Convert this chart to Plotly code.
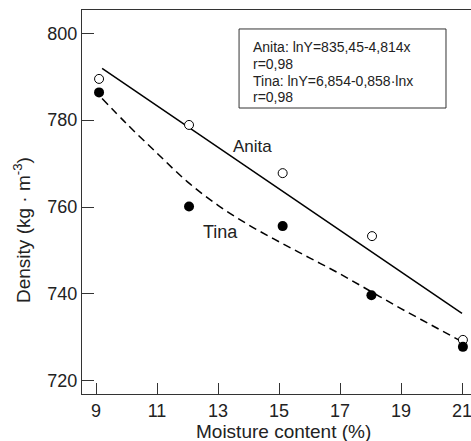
import plotly.graph_objects as go

# Measured data
anita_x = [9.1, 12.05, 15.12, 18.05, 21.03]
anita_y = [789.5, 778.9, 767.8, 753.3, 729.4]
tina_x = [9.1, 12.05, 15.12, 18.03, 21.03]
tina_y = [786.4, 760.1, 755.6, 739.7, 727.8]

# Fitted curves
anita_fit_x = [9.2, 21.0]
anita_fit_y = [791.9, 735.5]
tina_fit_x = [9.2, 10, 11, 12, 13, 14, 15, 16, 17, 18, 19, 20, 21]
tina_fit_y = [785.0, 779.2, 772.4, 765.8, 760.4, 755.9, 752.0, 748.3, 744.6, 740.6, 736.6, 732.8, 729.0]

x_ticks = [9, 11, 13, 15, 17, 19, 21]
y_ticks = [720, 740, 760, 780, 800]

box_lines = ["Anita: lnY=835,45-4,814x", "r=0,98", "Tina: lnY=6,854-0,858·lnx", "r=0,98"]
box_line_y = [796.79, 792.95, 789.11, 785.29]

FONT = "Liberation Sans, Arial, sans-serif"
TXT = "#222222"

fig = go.Figure()
fig.add_trace(go.Scatter(x=anita_fit_x, y=anita_fit_y, mode="lines",
                         line=dict(color="black", width=1.5), showlegend=False))
fig.add_trace(go.Scatter(x=tina_fit_x, y=tina_fit_y, mode="lines", line_shape="spline",
                         line=dict(color="black", width=1.5, dash="8px,5px"), showlegend=False))
fig.add_trace(go.Scatter(x=anita_x, y=anita_y, mode="markers",
                         marker=dict(symbol="circle", size=9, color="white",
                                     line=dict(color="black", width=1)), showlegend=False))
fig.add_trace(go.Scatter(x=tina_x, y=tina_y, mode="markers",
                         marker=dict(symbol="circle", size=10, color="black",
                                     line=dict(color="black", width=0)), showlegend=False))

# Equation box
fig.add_shape(type="rect", xref="x", yref="y", x0=13.69, x1=20.475, y0=782.8, y1=801.0,
              line=dict(color="#333333", width=1), fillcolor="white", layer="below")
for txt, yy in zip(box_lines, box_line_y):
    fig.add_annotation(xref="x", yref="y", x=14.105, y=yy, xanchor="left", yanchor="middle",
                       align="left", showarrow=False, text=txt, borderpad=0,
                       font=dict(family=FONT, size=14, color=TXT))

fig.add_annotation(xref="x", yref="y", x=14.13, y=773.9, showarrow=False, text="Anita",
                   font=dict(family=FONT, size=17, color=TXT))
fig.add_annotation(xref="x", yref="y", x=13.09, y=754.2, showarrow=False, text="Tina",
                   font=dict(family=FONT, size=18, color=TXT))

# Axis titles
fig.add_annotation(xref="paper", yref="paper", x=(283.5 - 82) / 389, y=(441 - 47 - 431) / 384,
                   showarrow=False, text="Moisture content (%)", yanchor="middle",
                   font=dict(family=FONT, size=19, color=TXT))
fig.add_annotation(xref="paper", yref="paper", x=(22 - 82) / 389, y=(394 - 230) / 384,
                   showarrow=False, text="Density\u00a0(kg\u00a0·\u00a0m<sup>-3</sup>)",
                   textangle=-90, xanchor="center", yanchor="middle",
                   font=dict(family=FONT, size=19, color=TXT))

fig.update_xaxes(range=[8.541, 21.295], tickvals=x_ticks, ticktext=[str(v) for v in x_ticks],
                 ticks="inside", ticklen=11, tickwidth=1, tickcolor="#333333",
                 ticklabeloverflow="allow",
                 showline=True, linecolor="#333333", linewidth=1, mirror=True,
                 showgrid=False, zeroline=False,
                 tickfont=dict(family=FONT, size=18, color=TXT))
fig.update_yaxes(range=[716.94, 805.37], tickvals=y_ticks, ticktext=[str(v) for v in y_ticks],
                 ticks="inside", ticklen=12, tickwidth=1, tickcolor="#333333",
                 showline=True, linecolor="#333333", linewidth=1, mirror=False,
                 showgrid=False, zeroline=False,
                 tickfont=dict(family=FONT, size=18, color=TXT))

fig.update_layout(width=471, height=441, margin=dict(l=82, r=0, t=10, b=47),
                  plot_bgcolor="white", paper_bgcolor="white", showlegend=False)

fig.write_html("out.html")
